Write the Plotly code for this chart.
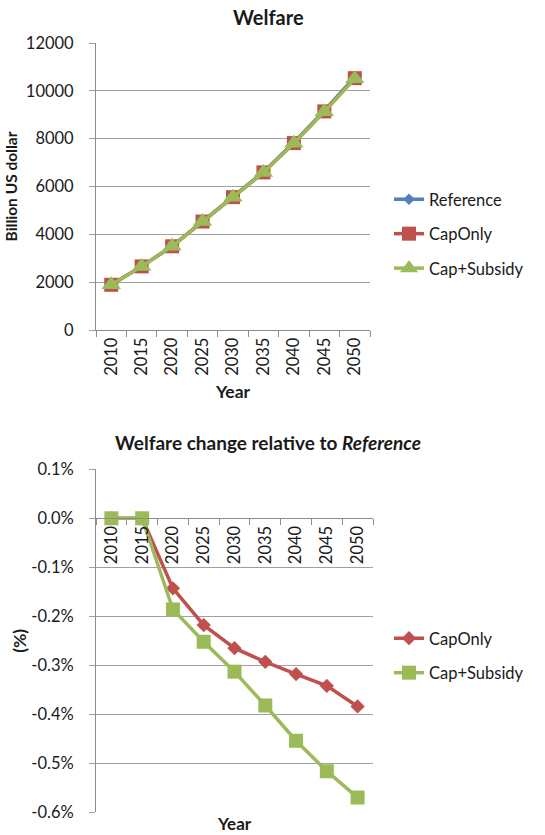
import plotly.graph_objects as go

W, H = 545, 835

years = ["2010", "2015", "2020", "2025", "2030", "2035", "2040", "2045", "2050"]

# Welfare, billion US dollar
welfare_reference = [1890, 2660, 3505, 4545, 5570, 6610, 7840, 9170, 10570]
welfare_caponly = [1890, 2660, 3500, 4535, 5555, 6590, 7815, 9140, 10530]
welfare_capsubsidy = [1890, 2660, 3498, 4533, 5553, 6585, 7805, 9123, 10510]

# Welfare change relative to Reference (fraction)
change_caponly = [0.0, 0.0, -0.00143, -0.00218, -0.00265, -0.00293, -0.00318, -0.00342, -0.00384]
change_capsubsidy = [0.0, 0.0, -0.00186, -0.00252, -0.00313, -0.00382, -0.00454, -0.00516, -0.00570]

top_yticks = [0, 2000, 4000, 6000, 8000, 10000, 12000]
bot_yticks = [0.001, 0.0, -0.001, -0.002, -0.003, -0.004, -0.005, -0.006]
bot_yticktext = ["0.1%", "0.0%", "-0.1%", "-0.2%", "-0.3%", "-0.4%", "-0.5%", "-0.6%"]

BLUE = "#4F81BD"
RED = "#C0504D"
GREEN = "#9BBB59"
GRID = "#A0A0A0"
AXIS = "#8C8C8C"
FONT = "Lato"
TXT = "#1a1a1a"


def px(x):
    return x / W


def py(y):
    return 1 - y / H


top_xdom = [px(96), px(370)]
top_ydom = [py(330), py(43)]
bot_xdom = [px(96), px(373)]
bot_ydom = [py(812.3), py(469.3)]
bot_range = [-0.006, 0.001]
zero_pos = bot_ydom[0] + (0 - bot_range[0]) / (bot_range[1] - bot_range[0]) * (bot_ydom[1] - bot_ydom[0])

fig = go.Figure()

LW = 3.5
fig.add_trace(go.Scatter(x=years, y=welfare_reference, name="Reference", mode="lines+markers",
                         line=dict(color=BLUE, width=LW),
                         marker=dict(symbol="diamond", size=9, color=BLUE),
                         xaxis="x", yaxis="y", legend="legend", legendgroup="a"))
fig.add_trace(go.Scatter(x=years, y=welfare_caponly, name="CapOnly", mode="lines+markers",
                         line=dict(color=RED, width=LW),
                         marker=dict(symbol="square", size=14, color=RED),
                         xaxis="x", yaxis="y", legend="legend", legendgroup="b"))
fig.add_trace(go.Scatter(x=years, y=welfare_capsubsidy, name="Cap+Subsidy", mode="lines+markers",
                         line=dict(color=GREEN, width=LW),
                         marker=dict(symbol="triangle-up", size=17, color=GREEN),
                         xaxis="x", yaxis="y", legend="legend", legendgroup="c"))

fig.add_trace(go.Scatter(x=years, y=change_caponly, name="CapOnly", mode="lines+markers",
                         line=dict(color=RED, width=LW),
                         marker=dict(symbol="diamond", size=11, color=RED),
                         xaxis="x2", yaxis="y2", legend="legend2", legendgroup="d"))
fig.add_trace(go.Scatter(x=years, y=change_capsubsidy, name="Cap+Subsidy", mode="lines+markers",
                         line=dict(color=GREEN, width=LW),
                         marker=dict(symbol="square", size=14, color=GREEN),
                         xaxis="x2", yaxis="y2", legend="legend2", legendgroup="e"))

tickfont = dict(family=FONT, size=16.5, color=TXT)
titlefont = dict(family=FONT, size=17.5, color=TXT, weight="bold")

common_x = dict(type="category", range=[-0.5, 8.5], tickson="boundaries", ticks="outside",
                ticklen=6, tickcolor=AXIS, showline=True, linecolor=AXIS, linewidth=1,
                showgrid=False, zeroline=False, tickangle=-90, tickfont=tickfont,
                fixedrange=True, automargin=False)
common_y = dict(showline=True, linecolor=AXIS, linewidth=1, ticks="outside", ticklen=6,
                tickcolor=GRID, showgrid=True, gridcolor=GRID, gridwidth=1, zeroline=False,
                tickfont=tickfont, ticklabelstandoff=12, fixedrange=True, automargin=False)

fig.update_layout(
    width=W, height=H,
    margin=dict(l=0, r=0, t=0, b=0, autoexpand=False),
    paper_bgcolor="white", plot_bgcolor="white",
    font=dict(family=FONT, size=16, color=TXT),
    xaxis=dict(**common_x, domain=top_xdom, anchor="y",
               title=dict(text="Year", font=titlefont, standoff=10)),
    yaxis=dict(**common_y, domain=top_ydom, anchor="x", range=[0, 12000],
               tickvals=top_yticks, tickformat="d",
               title=dict(text="Billion US dollar",
                          font=dict(family=FONT, size=15.5, color=TXT, weight="bold"),
                          standoff=4)),
    xaxis2=dict(**common_x, domain=bot_xdom, anchor="free", position=zero_pos),
    yaxis2=dict(**common_y, domain=bot_ydom, anchor="x2", range=bot_range,
                tickvals=bot_yticks, ticktext=bot_yticktext,
                title=dict(text="(%)", font=titlefont, standoff=0)),
    legend=dict(x=px(389), y=py(182), xanchor="left", yanchor="top",
                font=dict(family=FONT, size=16.5, color=TXT), tracegroupgap=10,
                bgcolor="rgba(0,0,0,0)"),
    legend2=dict(x=px(389), y=py(621), xanchor="left", yanchor="top",
                 font=dict(family=FONT, size=16.5, color=TXT), tracegroupgap=10,
                 bgcolor="rgba(0,0,0,0)"),
    annotations=[
        dict(text="<b>Welfare</b>", x=px(268), y=py(17), xref="paper", yref="paper",
             xanchor="center", yanchor="middle",
             showarrow=False, font=dict(family=FONT, size=20, color=TXT)),
        dict(text="<b>Welfare change relative to <i>Reference</i></b>", x=px(268), y=py(442),
             xref="paper", yref="paper", xanchor="center", yanchor="middle", showarrow=False,
             font=dict(family=FONT, size=19, color=TXT)),
        dict(text="<b>Year</b>", x=px(234), y=py(823), xref="paper", yref="paper",
             xanchor="center", yanchor="middle",
             showarrow=False, font=dict(family=FONT, size=17, color=TXT)),
    ],
)

# remove the browser's default 8px page margin so the figure fills the window exactly
fig.write_html("out.html", config={"displayModeBar": False, "staticPlot": True},
               post_script="document.body.style.margin='0';")
